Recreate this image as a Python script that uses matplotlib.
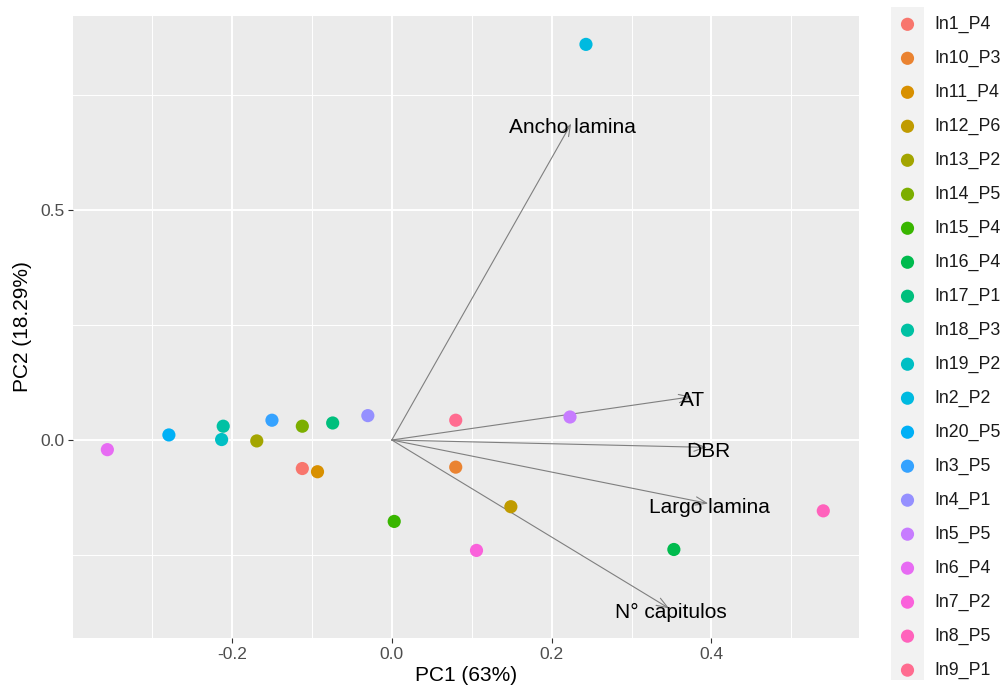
import numpy as np
import matplotlib.pyplot as plt
from matplotlib.ticker import MultipleLocator

plt.rcParams['font.family'] = ['Liberation Sans', 'DejaVu Sans']

# individuos (orden de la leyenda)
muestras = ["In1_P4", "In10_P3", "In11_P4", "In12_P6", "In13_P2", "In14_P5", "In15_P4",
            "In16_P4", "In17_P1", "In18_P3", "In19_P2", "In2_P2", "In20_P5", "In3_P5",
            "In4_P1", "In5_P5", "In6_P4", "In7_P2", "In8_P5", "In9_P1"]
pc1 = [-0.112, 0.080, -0.093, 0.149, -0.169, -0.112, 0.003, 0.353, -0.074, -0.211,
       -0.213, 0.243, -0.279, -0.150, -0.030, 0.223, -0.356, 0.106, 0.540, 0.080]
pc2 = [-0.062, -0.059, -0.069, -0.145, -0.002, 0.030, -0.177, -0.238, 0.037, 0.030,
       0.001, 0.860, 0.011, 0.043, 0.053, 0.050, -0.021, -0.240, -0.154, 0.043]

# variables (flechas)
variables = ["Ancho lamina", "AT", "DBR", "Largo lamina", "N° capitulos"]
var_pc1 = [0.2245, 0.375, 0.394, 0.396, 0.347]
var_pc2 = [0.688, 0.094, -0.016, -0.138, -0.366]

# colores hue de ggplot para 20 niveles
colores = ["#F8766D", "#EA8331", "#D89000", "#C09B00", "#A3A500", "#7CAE00", "#39B600",
           "#00BB4E", "#00BF7D", "#00C1A3", "#00BFC4", "#00BAE0", "#00B0F6", "#35A2FF",
           "#9590FF", "#C77CFF", "#E76BF3", "#FA62DB", "#FF62BC", "#FF6C90"]

fig = plt.figure(figsize=(10.08, 6.94), dpi=100)
ax = fig.add_axes([73/1008, 1 - 638/694, (859-73)/1008, (638-16)/694])
ax.set_facecolor('#EBEBEB')
for s in ax.spines.values():
    s.set_visible(False)

ax.set_xlim(-0.3990, 0.5847)
ax.set_ylim(-0.4304, 0.9217)
ax.xaxis.set_major_locator(MultipleLocator(0.2))
ax.xaxis.set_minor_locator(MultipleLocator(0.1))
ax.yaxis.set_major_locator(MultipleLocator(0.5))
ax.yaxis.set_minor_locator(MultipleLocator(0.25))
ax.grid(which='major', color='white', lw=1.4)
ax.grid(which='minor', color='white', lw=0.7)
ax.set_axisbelow(True)
ax.tick_params(which='major', length=3.3, width=0.8, color='#333333', labelsize=12.5,
               labelcolor='#4D4D4D', pad=3)
ax.tick_params(which='minor', length=0)
ax.xaxis.set_major_formatter(lambda v, p: f"{v:.1f}")
ax.yaxis.set_major_formatter(lambda v, p: f"{v:.1f}")

ax.scatter(pc1, pc2, c=colores, s=90, zorder=3, linewidths=0)

# flechas de las variables
for nom, x, y in zip(variables, var_pc1, var_pc2):
    ax.annotate('', xy=(x, y), xytext=(0, 0),
                arrowprops=dict(arrowstyle='->,head_length=0.8,head_width=0.3',
                                color='#7F7F7F', lw=0.8, shrinkA=0, shrinkB=0), zorder=2)
    ax.annotate(nom, xy=(x, y), xytext=(1, -3), textcoords='offset points',
                ha='center', va='center', fontsize=15, color='black', zorder=4)

ax.set_xlabel("PC1 (63%)", fontsize=15, labelpad=3)
ax.set_ylabel("PC2 (18.29%)", fontsize=15, labelpad=6)

# leyenda manual con fondo gris
lg = fig.add_axes([891/1008, 1 - 680/694, 33/1008, 673/694])
lg.set_facecolor('#F2F2F2')
for s in lg.spines.values():
    s.set_visible(False)
lg.set_xticks([])
lg.set_yticks([])
lg.set_xlim(-1, 1)
lg.set_ylim(19.29, -0.509)
pos = np.arange(len(muestras))
lg.scatter(np.zeros(len(muestras)), pos, c=colores, s=90, linewidths=0, clip_on=False)
for i, nom in enumerate(muestras):
    lg.text(1.65, i, nom, fontsize=12.8, va='center', ha='left', color='#1A1A1A')

fig.savefig('out.png', dpi=100)
